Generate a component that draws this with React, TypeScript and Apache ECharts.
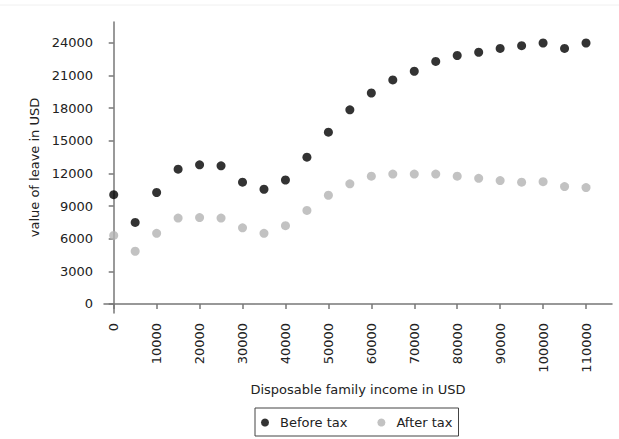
import React, { useEffect, useRef } from "react";
import * as echarts from "echarts";

const incomes = [0, 5000, 10000, 15000, 20000, 25000, 30000, 35000, 40000, 45000, 50000, 55000, 60000, 65000, 70000, 75000, 80000, 85000, 90000, 95000, 100000, 105000, 110000];
const beforeTax = [10050, 7500, 10250, 12400, 12800, 12700, 11200, 10550, 11400, 13500, 15800, 17850, 19400, 20600, 21400, 22300, 22850, 23150, 23500, 23750, 24000, 23500, 24000];
const afterTax = [6300, 4850, 6500, 7900, 7950, 7900, 7000, 6500, 7200, 8600, 10000, 11050, 11750, 11950, 11950, 11950, 11750, 11550, 11350, 11200, 11250, 10800, 10700];
const xTicks = [0, 10000, 20000, 30000, 40000, 50000, 60000, 70000, 80000, 90000, 100000, 110000];
const yTicks = [0, 3000, 6000, 9000, 12000, 15000, 18000, 21000, 24000];

const FONT = "DejaVu Sans";

export default function App() {
  const ref = useRef<HTMLDivElement>(null);
  useEffect(() => {
    document.body.style.margin = "0";
    if (!ref.current) return;
    const chart = echarts.init(ref.current, null, { renderer: "svg" });
    const axisLine = { show: true, lineStyle: { color: "#777", width: 1.5 } };
    const fmt = (v: number) => String(v);
    chart.setOption({
      animation: false,
      backgroundColor: "#fff",
      textStyle: { fontFamily: FONT },
      grid: { left: 104, right: 7, top: 22, bottom: 126, containLabel: false },
      xAxis: {
        type: "value",
        min: -2260,
        max: 116050,
        name: "Disposable family income in USD",
        nameLocation: "middle",
        nameGap: 70,
        nameTextStyle: { fontFamily: FONT, fontSize: 13, color: "#222" },
        axisLine,
        splitLine: { show: false },
        axisTick: { show: true, customValues: xTicks, length: 5, lineStyle: { color: "#777", width: 1.5 } },
        axisLabel: { customValues: xTicks, formatter: fmt, rotate: 90, margin: 10, fontFamily: FONT, fontSize: 13, color: "#222" },
      },
      yAxis: {
        type: "value",
        min: -830,
        max: 25930,
        name: "value of leave in USD",
        nameLocation: "middle",
        nameGap: 62,
        nameTextStyle: { fontFamily: FONT, fontSize: 13, color: "#222" },
        axisLine,
        splitLine: { show: false },
        axisTick: { show: true, customValues: yTicks, length: 5, lineStyle: { color: "#777", width: 1.5 } },
        axisLabel: { customValues: yTicks, formatter: fmt, margin: 11, fontFamily: FONT, fontSize: 13, color: "#222" },
      },
      legend: {
        left: 255,
        top: 408,
        itemGap: 30,
        padding: [8, 6, 7, 6],
        borderColor: "#444",
        borderWidth: 1,
        borderRadius: 0,
        icon: "circle",
        itemWidth: 8,
        itemHeight: 8,
        textStyle: { fontFamily: FONT, fontSize: 13, color: "#222", padding: [0, 0, 0, 6] },
        data: ["Before tax", "After tax"],
      },
      graphic: [
        { type: "line", shape: { x1: 0, y1: 5, x2: 619, y2: 5 }, style: { stroke: "#f0f0f0", lineWidth: 1 } },
      ],
      series: [
        {
          name: "Before tax",
          type: "scatter",
          symbol: "circle",
          symbolSize: 9,
          itemStyle: { color: "#000" },
          data: incomes.map((x, i) => [x, beforeTax[i]]),
        },
        {
          name: "After tax",
          type: "scatter",
          symbol: "circle",
          symbolSize: 9,
          itemStyle: { color: "#b3b3b3" },
          data: incomes.map((x, i) => [x, afterTax[i]]),
        },
      ],
    });
    return () => chart.dispose();
  }, []);
  return <div ref={ref} style={{ width: 619, height: 439 }} />;
}
